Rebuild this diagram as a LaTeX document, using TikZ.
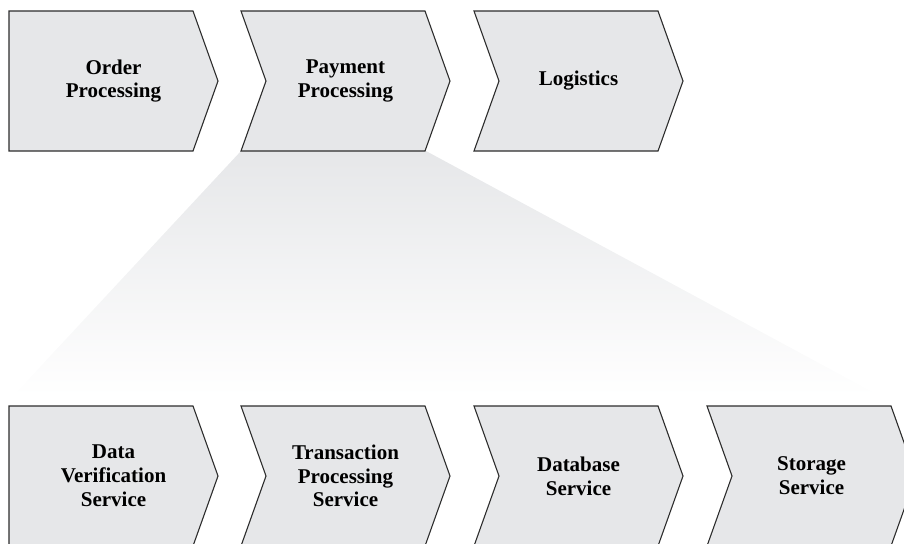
\documentclass[tikz,border=0pt]{standalone}
\usepackage{fontspec}
\setmainfont{Liberation Serif}
\definecolor{boxgray}{RGB}{230,231,233}
\definecolor{edgegray}{RGB}{45,45,45}
\tikzset{
  chevron/.style={draw=edgegray, fill=boxgray, line width=0.55pt, line join=miter},
  lbl/.style={align=center, inner sep=0pt, font=\fontsize{10.5}{11.9}\selectfont\bfseries}
}
\begin{document}
\begin{tikzpicture}[x=0.5pt,y=-0.5pt]
  \useasboundingbox (0,0) rectangle (904,543);
  \clip (0,0) rectangle (904,543);

  % fan below Payment Processing
  \shade[top color=boxgray, bottom color=white] (241,151) -- (426,151) -- (880,396) -- (13,396) -- cycle;

  % top row
  \draw[chevron] (9,11) -- (193,11) -- (218,81) -- (193,151) -- (9,151) -- cycle;
  \draw[chevron] (241,11) -- (425,11) -- (450,81) -- (425,151) -- (241,151) -- (266,81) -- cycle;
  \draw[chevron] (474,11) -- (658,11) -- (683,81) -- (658,151) -- (474,151) -- (499,81) -- cycle;

  \node[lbl] (order) at (113.5,81) {Order\\Processing};
  \node[lbl] (payment) at (345.5,81) {Payment\\Processing};
  \node[lbl] (logistics) at (578.5,81) {Logistics};

  % bottom row
  \draw[chevron] (9,406) -- (193,406) -- (218,476) -- (193,546) -- (9,546) -- cycle;
  \draw[chevron] (241,406) -- (425,406) -- (450,476) -- (425,546) -- (241,546) -- (266,476) -- cycle;
  \draw[chevron] (474,406) -- (658,406) -- (683,476) -- (658,546) -- (474,546) -- (499,476) -- cycle;
  \draw[chevron] (707,406) -- (891,406) -- (916,476) -- (891,546) -- (707,546) -- (732,476) -- cycle;

  \node[lbl] (verify) at (113.5,476) {Data\\Verification\\Service};
  \node[lbl] (transact) at (345.5,476) {Transaction\\Processing\\Service};
  \node[lbl] (database) at (578.5,476) {Database\\Service};
  \node[lbl] (storage) at (811.5,476) {Storage\\Service};
\end{tikzpicture}
\end{document}
